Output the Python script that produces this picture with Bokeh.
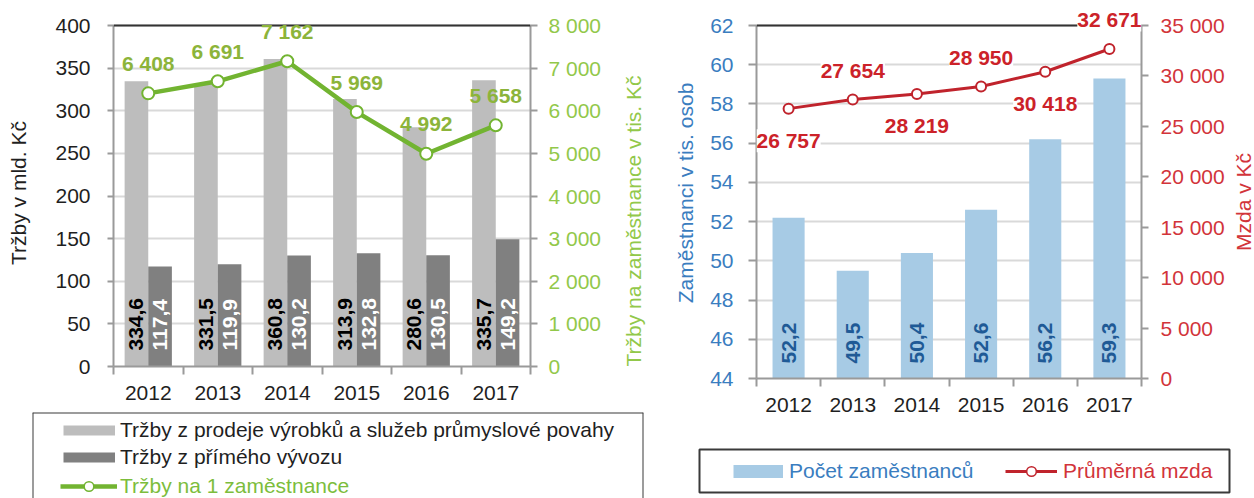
import math
from bokeh.plotting import figure
from bokeh.models import (ColumnDataSource, Range1d, LinearAxis, FixedTicker, LabelSet,
                          Span, Legend, LegendItem)
from bokeh.core.properties import value
from bokeh.transform import dodge
from bokeh.layouts import row, column
from bokeh.embed import file_html
from bokeh.resources import INLINE

# ---------------- data ----------------
years = [2012, 2013, 2014, 2015, 2016, 2017]
sales_total = [334.6, 331.5, 360.8, 313.9, 280.6, 335.7]      # mld. Kč
sales_export = [117.4, 119.9, 130.2, 132.8, 130.5, 149.2]     # mld. Kč
sales_per_emp = [6408, 6691, 7162, 5969, 4992, 5658]          # tis. Kč
employees = [52.2, 49.5, 50.4, 52.6, 56.2, 59.3]              # tis. osob
avg_wage = [26757, 27654, 28219, 28950, 30418, 32671]         # Kč
wage_label_side = ["below", "above", "below", "above", "below", "above"]

left_ticks = list(range(0, 401, 50))
left_ticks2 = list(range(0, 8001, 1000))
right_ticks = list(range(44, 63, 2))
right_ticks2 = list(range(0, 35001, 5000))

FONT = "Liberation Sans"
FS = "21px"
AXIS_GRAY = "#9a9a9a"
GRID = "#d9d9d9"
LIGHT = "#bdbdbd"
DARK = "#808080"
GREEN = "#72b431"
GREEN_TXT = "#8cb43a"
GREEN_AX = "#92c84a"
BLUE_BAR = "#a7cbe5"
BLUE_TXT = "#3a7dbf"
BLUE_LAB = "#1f5a96"
RED = "#c0232c"
RED_LAB = "#cc2229"
RED_AX = "#d2343a"
BLACK_TXT = "#1f1f1f"

# frame geometry (px): axis area height and extra head-room above the top tick
P1_AXIS_PX, P1_HEAD_PX = 341, 6
P2_AXIS_PX, P2_HEAD_PX = 353, 18


def extend(lo, hi, axis_px, head_px):
    return Range1d(lo, hi + (hi - lo) * head_px / axis_px)


def cz_int(v):
    return f"{v:,}".replace(",", " ")


def cz_dec(v):
    return f"{v:.1f}".replace(".", ",")


def style_axis(ax, text_color, tick_out, standoff, title=None, title_color=None,
               title_standoff=5, flip=False):
    ax.axis_line_color = AXIS_GRAY
    ax.axis_line_width = 2
    ax.major_tick_line_color = AXIS_GRAY
    ax.major_tick_line_width = 2
    ax.major_tick_out = tick_out
    ax.major_tick_in = 0
    ax.minor_tick_line_color = None
    ax.minor_tick_out = 0
    ax.minor_tick_in = 0
    ax.major_label_text_font = FONT
    ax.major_label_text_font_size = FS
    ax.major_label_text_color = text_color
    ax.major_label_standoff = standoff
    if title:
        ax.axis_label = title
        ax.axis_label_text_font = FONT
        ax.axis_label_text_font_size = FS
        ax.axis_label_text_font_style = "normal"
        ax.axis_label_text_color = title_color
        ax.axis_label_standoff = title_standoff
        if flip:
            props = ax.properties()
            if "axis_label_orientation" in props:
                ax.axis_label_orientation = math.pi / 2
            if "axis_label_align" in props:
                ax.axis_label_align = "start"


def style_xaxis(ax, standoff):
    bounds = [years[0] - 0.5] + [y + 0.5 for y in years]
    ax.ticker = FixedTicker(ticks=years, minor_ticks=bounds)
    ax.major_label_overrides = {y: str(y) for y in years}
    ax.axis_line_color = AXIS_GRAY
    ax.axis_line_width = 2
    ax.major_tick_line_color = None
    ax.major_tick_out = 0
    ax.major_tick_in = 0
    ax.minor_tick_line_color = AXIS_GRAY
    ax.minor_tick_line_width = 2
    ax.minor_tick_out = 8
    ax.minor_tick_in = 0
    ax.major_label_text_font = FONT
    ax.major_label_text_font_size = FS
    ax.major_label_text_color = BLACK_TXT
    ax.major_label_standoff = standoff


def one_legend(label, renderers, loc, gw, standoff, color):
    return Legend(items=[LegendItem(label=label, renderers=renderers)], location=loc,
                  orientation="vertical", padding=0, spacing=0, margin=0,
                  border_line_color=None, background_fill_color=None,
                  glyph_width=gw, glyph_height=24, label_height=24,
                  label_standoff=standoff, label_text_font=FONT, label_text_font_size=FS,
                  label_text_color=color)


def legend_fig(width, height, left, right, top, bottom):
    f = figure(width=width, height=height, x_range=Range1d(0, 1), y_range=Range1d(0, 1),
               x_axis_location=None, y_axis_location=None, toolbar_location=None,
               output_backend="svg", min_border_left=left, min_border_right=right,
               min_border_top=top, min_border_bottom=bottom)
    f.grid.visible = False
    return f


# legend sample renderers need data; it lies outside the visible 0..1 window
OFF = dict(x=[-3, -2], y=[-3, -3])

# ---------------- left chart ----------------
src1 = ColumnDataSource(dict(
    year=years, total=sales_total, export=sales_export, per_emp=sales_per_emp,
    total_lab=[cz_dec(v) for v in sales_total],
    export_lab=[cz_dec(v) for v in sales_export],
    per_emp_lab=[cz_int(v) for v in sales_per_emp],
))

p1 = figure(width=660, height=408, x_range=Range1d(years[0] - 0.5, years[-1] + 0.5),
            y_range=extend(left_ticks[0], left_ticks[-1], P1_AXIS_PX, P1_HEAD_PX),
            toolbar_location=None, output_backend="svg",
            min_border_left=113, min_border_right=130, min_border_top=25 - P1_HEAD_PX,
            min_border_bottom=42)
p1.outline_line_color = None
p1.extra_y_ranges = {"y2": extend(left_ticks2[0], left_ticks2[-1], P1_AXIS_PX, P1_HEAD_PX)}
p1.xgrid.visible = False
p1.ygrid.ticker = FixedTicker(ticks=left_ticks)
p1.ygrid.grid_line_color = GRID
p1.ygrid.grid_line_width = 2

p1.yaxis[0].ticker = FixedTicker(ticks=left_ticks)
p1.yaxis[0].bounds = (left_ticks[0], left_ticks[-1])
style_axis(p1.yaxis[0], BLACK_TXT, 6, 17, "Tržby v mld. Kč", BLACK_TXT, 22)
ax_r1 = LinearAxis(y_range_name="y2", ticker=FixedTicker(ticks=left_ticks2),
                   bounds=(left_ticks2[0], left_ticks2[-1]),
                   major_label_overrides={v: cz_int(v) for v in left_ticks2})
style_axis(ax_r1, GREEN_AX, 7, 11, "Tržby na zaměstnance v tis. Kč", GREEN_AX, 29, flip=True)
p1.add_layout(ax_r1, "right")
style_xaxis(p1.xaxis[0], 11)

p1.vbar(x=dodge("year", -0.17, range=p1.x_range), top="total", width=0.34, source=src1,
        fill_color=LIGHT, line_color=None)
p1.vbar(x=dodge("year", 0.17, range=p1.x_range), top="export", width=0.34, source=src1,
        fill_color=DARK, line_color=None)
p1.line(x="year", y="per_emp", source=src1, y_range_name="y2", line_color=GREEN,
        line_width=4.5)
p1.scatter(x="year", y="per_emp", source=src1, y_range_name="y2", marker="circle",
           size=12, fill_color="white", line_color=GREEN, line_width=2)

p1.add_layout(Span(location=left_ticks[-1], dimension="width", line_color="#333333",
                   line_width=2))

p1.add_layout(LabelSet(x=dodge("year", -0.17, range=p1.x_range), y=left_ticks[0],
                       text="total_lab", source=src1, angle=90, angle_units="deg",
                       y_offset=16, text_align="left", text_baseline="middle",
                       text_font=value(FONT), text_font_size=value(FS),
                       text_font_style="bold", text_color="black"))
p1.add_layout(LabelSet(x=dodge("year", 0.17, range=p1.x_range), y=left_ticks[0],
                       text="export_lab", source=src1, angle=90, angle_units="deg",
                       y_offset=16, text_align="left", text_baseline="middle",
                       text_font=value(FONT), text_font_size=value(FS),
                       text_font_style="bold", text_color="white"))
p1.add_layout(LabelSet(x="year", y="per_emp", text="per_emp_lab", source=src1,
                       y_range_name="y2", y_offset=30, text_align="center",
                       text_baseline="middle", text_font=value(FONT),
                       text_font_size=value(FS), text_font_style="bold",
                       text_color=GREEN_TXT))

# ---------------- left legend ----------------
lf1 = legend_fig(658, 90, 32, 15, 4, 0)
lf1.outline_line_color = None
for loc, dim in [(0, "height"), (1, "height"), (1, "width")]:
    lf1.add_layout(Span(location=loc, dimension=dim, line_color="#3a3a3a", line_width=2))

g_light = lf1.line(x=OFF["x"], y=OFF["y"], line_color=LIGHT, line_width=10, line_cap="butt")
g_dark = lf1.line(x=OFF["x"], y=OFF["y"], line_color=DARK, line_width=10, line_cap="butt")
g_gl = lf1.line(x=OFF["x"], y=OFF["y"], line_color=GREEN, line_width=4.5)
g_gm = lf1.scatter(x=OFF["x"], y=OFF["y"], marker="circle", fill_color="white",
                   line_color=GREEN, line_width=1.5)
lf1.add_layout(one_legend("Tržby z prodeje výrobků a služeb průmyslové povahy", [g_light],
                          (31, 56), 52, 5, BLACK_TXT))
lf1.add_layout(one_legend("Tržby z přímého vývozu", [g_dark], (31, 29), 52, 5, BLACK_TXT))
lf1.add_layout(one_legend("Tržby na 1 zaměstnance", [g_gl, g_gm], (28, 0), 57, 3,
                          "#7cbd3c"))

# ---------------- right chart ----------------
src2 = ColumnDataSource(dict(
    year=years, emp=employees, wage=avg_wage,
    emp_lab=[cz_dec(v) for v in employees],
    wage_lab=[cz_int(v) for v in avg_wage],
    dy=[29 if s == "above" else -32 for s in wage_label_side],
))

wage_range = extend(right_ticks2[0], right_ticks2[-1], P2_AXIS_PX, P2_HEAD_PX)
p2 = figure(width=572, height=425, x_range=Range1d(years[0] - 0.5, years[-1] + 0.5),
            y_range=extend(right_ticks[0], right_ticks[-1], P2_AXIS_PX, P2_HEAD_PX),
            toolbar_location=None, output_backend="svg",
            min_border_left=96, min_border_right=91, min_border_top=25 - P2_HEAD_PX,
            min_border_bottom=47)
p2.outline_line_color = None
p2.extra_y_ranges = {"y2": wage_range}
p2.xgrid.visible = False
p2.ygrid.ticker = FixedTicker(ticks=right_ticks)
p2.ygrid.grid_line_color = GRID
p2.ygrid.grid_line_width = 2

p2.yaxis[0].ticker = FixedTicker(ticks=right_ticks)
p2.yaxis[0].bounds = (right_ticks[0], right_ticks[-1])
style_axis(p2.yaxis[0], BLUE_TXT, 8, 15, "Zaměstnanci v tis. osob", BLUE_TXT, 10)
ax_r2 = LinearAxis(y_range_name="y2", ticker=FixedTicker(ticks=right_ticks2),
                   bounds=(right_ticks2[0], right_ticks2[-1]),
                   major_label_overrides={v: cz_int(v) for v in right_ticks2})
style_axis(ax_r2, RED_AX, 7, 12)
p2.add_layout(ax_r2, "right")
style_xaxis(p2.xaxis[0], 11)

p2.vbar(x="year", top="emp", bottom=right_ticks[0], width=0.5, source=src2,
        fill_color=BLUE_BAR, line_color=None)
p2.line(x="year", y="wage", source=src2, y_range_name="y2", line_color=RED, line_width=3)
p2.scatter(x="year", y="wage", source=src2, y_range_name="y2", marker="circle", size=10,
           fill_color="white", line_color=RED, line_width=2)

p2.add_layout(Span(location=right_ticks[-1], dimension="width", line_color="#333333",
                   line_width=2))

p2.add_layout(LabelSet(x="year", y=right_ticks[0], text="emp_lab", source=src2, angle=90,
                       angle_units="deg", y_offset=15, text_align="left",
                       text_baseline="middle", text_font=value(FONT),
                       text_font_size=value(FS), text_font_style="bold",
                       text_color=BLUE_LAB))
p2.add_layout(LabelSet(x="year", y="wage", text="wage_lab", source=src2, y_range_name="y2",
                       y_offset="dy", text_align="center", text_baseline="middle",
                       text_font=value(FONT), text_font_size=value(FS),
                       text_font_style="bold", text_color=RED_LAB,
                       background_fill_color="white"))

# title of the wage axis (reads bottom-to-top like the original)
p3 = figure(width=22, height=420, x_range=Range1d(0, 1), y_range=wage_range,
            x_axis_location=None, y_axis_location=None, toolbar_location=None,
            output_backend="svg", min_border_left=0, min_border_right=0,
            min_border_top=25 - P2_HEAD_PX, min_border_bottom=42)
p3.outline_line_color = None
p3.grid.visible = False
p3.text(x=[0.5], y=[(right_ticks2[0] + right_ticks2[-1]) / 2], text=["Mzda v Kč"],
        angle=math.pi / 2, text_align="center", text_baseline="middle",
        text_font=value(FONT), text_font_size=value(FS), text_color=RED_AX)

# ---------------- right legend ----------------
lf2 = legend_fig(571, 73, 39, 2, 24, 6)
lf2.outline_line_color = "#3a3a3a"
lf2.outline_line_width = 2
g_blue = lf2.line(x=OFF["x"], y=OFF["y"], line_color=BLUE_BAR, line_width=13,
                  line_cap="butt")
g_rl = lf2.line(x=OFF["x"], y=OFF["y"], line_color=RED, line_width=3)
g_rm = lf2.scatter(x=OFF["x"], y=OFF["y"], marker="circle", fill_color="white",
                   line_color=RED, line_width=1.5)
lf2.add_layout(one_legend("Počet zaměstnanců", [g_blue], (34, 9), 50, 6, BLUE_TXT))
lf2.add_layout(one_legend("Průměrná mzda", [g_rl, g_rm], (306, 9), 52, 6, RED_AX))

layout = row(column(column(p1), column(lf1)),
             column(column(p2), column(lf2)),
             column(p3))

with open("out.html", "w") as f:
    f.write(file_html(layout, INLINE))
